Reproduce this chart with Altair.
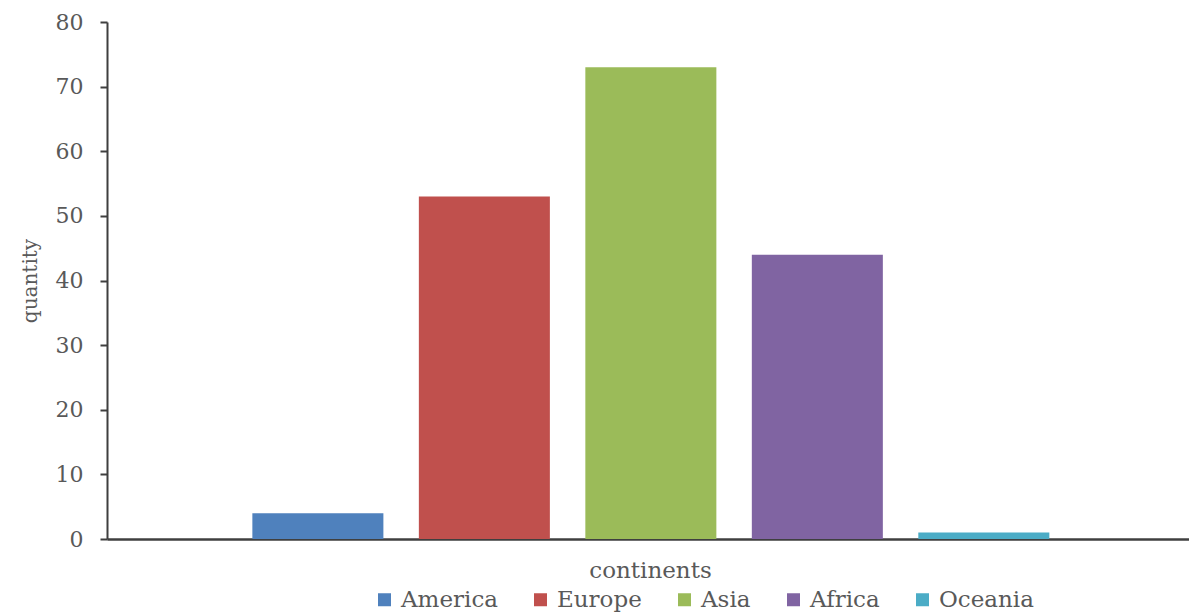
import altair as alt
import pandas as pd

# Number of items per continent
continents = ["America", "Europe", "Asia", "Africa", "Oceania"]
quantities = [4, 53, 73, 44, 1]
colors = ["#4F81BD", "#C0504D", "#9BBB59", "#8064A2", "#4BACC6"]
y_ticks = [0, 10, 20, 30, 40, 50, 60, 70, 80]

df = pd.DataFrame({"continent": continents, "quantity": quantities})

FONT = "DejaVu Serif"
GREY = "#595959"
AXIS = "#3f3f3f"

chart = (
    alt.Chart(df)
    .mark_bar()
    .encode(
        x=alt.X(
            "continent:N",
            sort=continents,
            scale=alt.Scale(paddingInner=0.213, paddingOuter=0.856, align=0.51),
            axis=alt.Axis(
                title="continents",
                labels=False,
                ticks=False,
                domainColor=AXIS,
                domainWidth=2.5,
                titleFont=FONT,
                titleFontSize=23,
                titleFontWeight="normal",
                titleColor=GREY,
                titleBaseline="alphabetic",
                titleY=38,
                titleX=543,
            ),
        ),
        y=alt.Y(
            "quantity:Q",
            scale=alt.Scale(domain=[0, 80], nice=False),
            axis=alt.Axis(
                title="quantity",
                values=y_ticks,
                grid=False,
                domainColor=AXIS,
                domainWidth=2,
                tickColor=AXIS,
                tickWidth=2,
                tickSize=7,
                labelPadding=17,
                labelFont=FONT,
                labelFontSize=22,
                labelColor=GREY,
                titleFont=FONT,
                titleFontSize=20,
                titleFontWeight="normal",
                titleColor=GREY,
                titleBaseline="middle",
                titleX=-77,
            ),
        ),
        color=alt.Color(
            "continent:N",
            sort=continents,
            scale=alt.Scale(domain=continents, range=colors),
            legend=alt.Legend(
                title=None,
                orient="none",
                direction="horizontal",
                legendX=266,
                legendY=566,
                padding=0,
                symbolType="square",
                symbolSize=169,
                symbolStrokeWidth=0,
                labelFont=FONT,
                labelFontSize=23,
                labelColor=GREY,
                labelOffset=5,
                labelLimit=300,
                columnPadding=31,
            ),
        ),
    )
    .properties(
        width=1082,
        height=517,
        autosize=alt.AutoSizeParams(type="none"),
        padding={"left": 107, "top": 22, "right": 0, "bottom": 75},
        background="white",
    )
    .configure_view(stroke=None)
)

chart.save("out.html", embed_options={"renderer": "svg", "actions": False})
